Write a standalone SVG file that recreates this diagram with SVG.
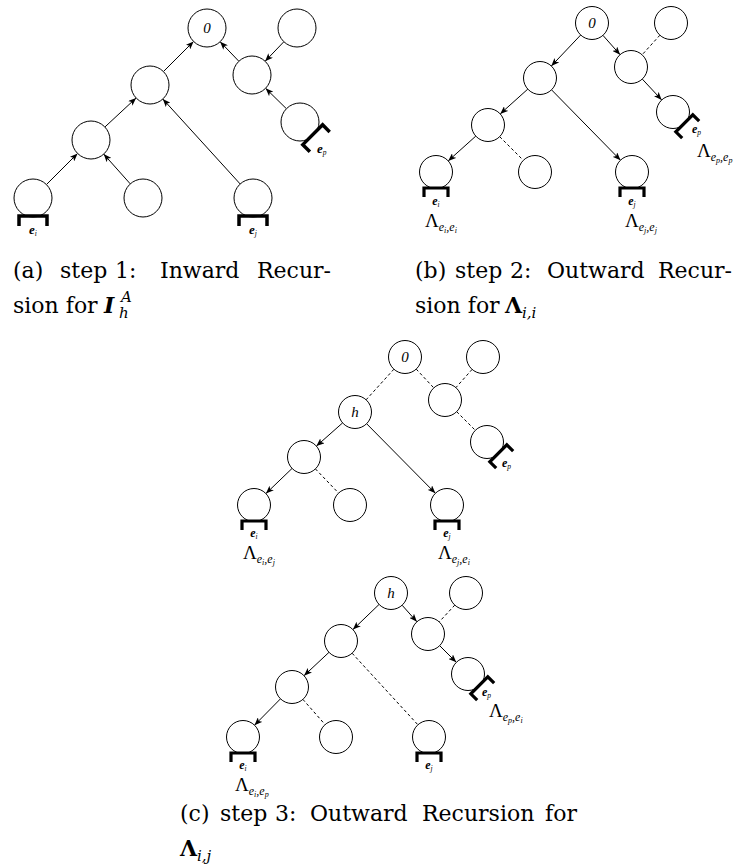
<svg xmlns="http://www.w3.org/2000/svg" width="735" height="866" viewBox="0 0 735 866">
<defs>
<marker id="ah" viewBox="0 0 10 8" refX="10" refY="4" markerWidth="8" markerHeight="6.4" markerUnits="userSpaceOnUse" orient="auto"><path d="M0,0 L10,4 L0,8 L2.5,4 z" fill="#000"/></marker>
<path id="brA" d="M-14,10 V0 H14 V10"/>
<path id="brB" d="M-12,9 V0 H12 V9"/>
</defs>
<style>
.n{fill:#fff;stroke:#000;stroke-width:1}
.e{stroke:#000;stroke-width:1;fill:none}
.a{marker-end:url(#ah)}
.d{stroke-dasharray:3 2.5}
.brA{fill:none;stroke:#000;stroke-width:3.5}
.brB{fill:none;stroke:#000;stroke-width:3.2}
.lab{font-family:"Liberation Serif",serif;font-style:italic;font-size:15px;text-anchor:middle}
.el{font-family:"Liberation Serif",serif;font-style:italic;font-weight:bold;font-size:12px}
.elA{font-family:"Liberation Serif",serif;font-style:italic;font-weight:bold;font-size:13px}
.bs{font-size:7.5px;font-weight:normal}
.lam{font-family:"Liberation Serif",serif;font-size:19px}
.s1{font-size:12px;font-style:italic}
.s2{font-size:8px;font-style:italic}
.cap{font-family:"DejaVu Serif",serif;font-size:22px}
</style>
<rect width="735" height="866" fill="#fff"/>

<g id="connectors">
<!-- panel a -->
<line class="e a" x1="163.4" y1="71.6" x2="193.6" y2="41.4"/>
<line class="e a" x1="238.9" y1="61.3" x2="220.1" y2="41.7"/>
<line class="e a" x1="283.9" y1="41.7" x2="265.1" y2="61.3"/>
<line class="e a" x1="286.4" y1="108.7" x2="265.6" y2="88.3"/>
<line class="e a" x1="104.9" y1="127" x2="136.1" y2="98"/>
<line class="e a" x1="240.2" y1="184" x2="162.8" y2="99"/>
<line class="e a" x1="46.4" y1="184.6" x2="77.6" y2="153.4"/>
<line class="e a" x1="130.3" y1="183.9" x2="103.7" y2="154.1"/>
<!-- panel b -->
<line class="e a" x1="580.7" y1="35" x2="551.3" y2="66"/>
<line class="e a" x1="602.9" y1="35.3" x2="620.1" y2="54.7"/>
<line class="e d" x1="659.9" y1="35.2" x2="642.1" y2="54.8"/>
<line class="e a" x1="642.3" y1="79.1" x2="661.7" y2="99.9"/>
<line class="e a" x1="527.8" y1="89.1" x2="500.2" y2="113.9"/>
<line class="e a" x1="551.5" y1="89.8" x2="620.5" y2="160.2"/>
<line class="e a" x1="475.8" y1="136.1" x2="448.2" y2="160.9"/>
<line class="e d" x1="499.7" y1="136.7" x2="523.3" y2="160.3"/>
<!-- panel c -->
<line class="e d" x1="393.9" y1="369.2" x2="366.1" y2="399.8"/>
<line class="e d" x1="416.2" y1="369.1" x2="433.8" y2="387.9"/>
<line class="e d" x1="472.1" y1="369.4" x2="455.9" y2="387.6"/>
<line class="e d" x1="456.7" y1="411.7" x2="475.3" y2="430.3"/>
<line class="e a" x1="342.6" y1="422.9" x2="316.4" y2="446.1"/>
<line class="e a" x1="366.6" y1="423.7" x2="435.4" y2="493.3"/>
<line class="e a" x1="292.1" y1="468.4" x2="265.9" y2="493.6"/>
<line class="e d" x1="315.4" y1="468.9" x2="338.6" y2="493.1"/>
<!-- panel d -->
<line class="e a" x1="379.1" y1="604.4" x2="352.9" y2="629.6"/>
<line class="e a" x1="402.1" y1="605.2" x2="416.9" y2="621.8"/>
<line class="e d" x1="454.8" y1="605.1" x2="439.2" y2="621.9"/>
<line class="e a" x1="439.7" y1="645.7" x2="456.3" y2="662.3"/>
<line class="e a" x1="329" y1="652.3" x2="304" y2="675.7"/>
<line class="e d" x1="352.1" y1="653.2" x2="417.9" y2="724.8"/>
<line class="e a" x1="280.5" y1="698.8" x2="254.5" y2="725.2"/>
<line class="e d" x1="302.9" y1="699.4" x2="325.1" y2="724.6"/>
</g>

<!-- panel a nodes -->
<g id="a-root"><circle class="n" cx="207" cy="28" r="19"/><text class="lab" x="207" y="33">0</text></g>
<g id="a-tr"><circle class="n" cx="297" cy="28" r="19"/></g>
<g id="a-l2"><circle class="n" cx="150" cy="85" r="19"/></g>
<g id="a-r2"><circle class="n" cx="252" cy="75" r="19"/></g>
<g id="a-ep"><circle class="n" cx="300" cy="122" r="19"/><g transform="translate(300,122) rotate(-45) translate(0,18)"><use href="#brA" class="brA"/></g><text class="elA" x="317" y="153">e<tspan class="bs" dy="2">p</tspan></text></g>
<g id="a-l3"><circle class="n" cx="91" cy="140" r="19"/></g>
<g id="a-ei"><circle class="n" cx="33" cy="198" r="19"/><use href="#brA" class="brA" x="33" y="216"/><text class="elA" x="33" y="234" text-anchor="middle">e<tspan class="bs" dy="2">i</tspan></text></g>
<g id="a-mid"><circle class="n" cx="143" cy="198" r="19"/></g>
<g id="a-ej"><circle class="n" cx="253" cy="198" r="19"/><use href="#brA" class="brA" x="253" y="216"/><text class="elA" x="253" y="234" text-anchor="middle">e<tspan class="bs" dy="2">j</tspan></text></g>

<!-- panel b nodes -->
<g id="b-root"><circle class="n" cx="592" cy="23" r="16.5"/><text class="lab" x="592" y="28" font-size="14">0</text></g>
<g id="b-tr"><circle class="n" cx="671" cy="23" r="16.5"/></g>
<g id="b-l2"><circle class="n" cx="540" cy="78" r="16.5"/></g>
<g id="b-r2"><circle class="n" cx="631" cy="67" r="16.5"/></g>
<g id="b-ep"><circle class="n" cx="673" cy="112" r="16.5"/><g transform="translate(673,112) rotate(-45) translate(0,16)"><use href="#brB" class="brB"/></g><text class="el" x="692" y="133">e<tspan class="bs" dy="2">p</tspan></text>
<text class="lam" x="697" y="157">Λ<tspan class="s1" dy="4">e</tspan><tspan class="s2" dy="2">p</tspan><tspan class="s1" dy="-2">,</tspan><tspan class="s1">e</tspan><tspan class="s2" dy="2">p</tspan></text></g>
<g id="b-l3"><circle class="n" cx="488" cy="125" r="16.5"/></g>
<g id="b-ei"><circle class="n" cx="436" cy="172" r="16.5"/><use href="#brB" class="brB" x="436" y="188"/><text class="el" x="436" y="205" text-anchor="middle">e<tspan class="bs" dy="2">i</tspan></text>
<text class="lam" x="425" y="227">Λ<tspan class="s1" dy="4">e</tspan><tspan class="s2" dy="2">i</tspan><tspan class="s1" dy="-2">,</tspan><tspan class="s1">e</tspan><tspan class="s2" dy="2">i</tspan></text></g>
<g id="b-mid"><circle class="n" cx="535" cy="172" r="16.5"/></g>
<g id="b-ej"><circle class="n" cx="632" cy="172" r="16.5"/><use href="#brB" class="brB" x="632" y="188"/><text class="el" x="632" y="205" text-anchor="middle">e<tspan class="bs" dy="2">j</tspan></text>
<text class="lam" x="625" y="227">Λ<tspan class="s1" dy="4">e</tspan><tspan class="s2" dy="2">j</tspan><tspan class="s1" dy="-2">,</tspan><tspan class="s1">e</tspan><tspan class="s2" dy="2">j</tspan></text></g>

<!-- panel c nodes -->
<g id="c-root"><circle class="n" cx="405" cy="357" r="16.5"/><text class="lab" x="405" y="362" font-size="14">0</text></g>
<g id="c-tr"><circle class="n" cx="483" cy="357" r="16.5"/></g>
<g id="c-h"><circle class="n" cx="355" cy="412" r="16.5"/><text class="lab" x="355" y="417" font-size="15">h</text></g>
<g id="c-r2"><circle class="n" cx="445" cy="400" r="16.5"/></g>
<g id="c-ep"><circle class="n" cx="487" cy="442" r="16.5"/><g transform="translate(487,442) rotate(-45) translate(0,16)"><use href="#brB" class="brB"/></g><text class="el" x="502" y="467">e<tspan class="bs" dy="2">p</tspan></text></g>
<g id="c-l3"><circle class="n" cx="304" cy="457" r="16.5"/></g>
<g id="c-ei"><circle class="n" cx="254" cy="505" r="16.5"/><use href="#brB" class="brB" x="254" y="521"/><text class="el" x="254" y="537" text-anchor="middle">e<tspan class="bs" dy="2">i</tspan></text>
<text class="lam" x="243" y="559">Λ<tspan class="s1" dy="4">e</tspan><tspan class="s2" dy="2">i</tspan><tspan class="s1" dy="-2">,</tspan><tspan class="s1">e</tspan><tspan class="s2" dy="2">j</tspan></text></g>
<g id="c-mid"><circle class="n" cx="350" cy="505" r="16.5"/></g>
<g id="c-ej"><circle class="n" cx="447" cy="505" r="16.5"/><use href="#brB" class="brB" x="447" y="521"/><text class="el" x="447" y="537" text-anchor="middle">e<tspan class="bs" dy="2">j</tspan></text>
<text class="lam" x="438" y="559">Λ<tspan class="s1" dy="4">e</tspan><tspan class="s2" dy="2">j</tspan><tspan class="s1" dy="-2">,</tspan><tspan class="s1">e</tspan><tspan class="s2" dy="2">i</tspan></text></g>

<!-- panel d nodes -->
<g id="d-h"><circle class="n" cx="391" cy="593" r="16.5"/><text class="lab" x="391" y="598" font-size="15">h</text></g>
<g id="d-tr"><circle class="n" cx="466" cy="593" r="16.5"/></g>
<g id="d-r2"><circle class="n" cx="428" cy="634" r="16.5"/></g>
<g id="d-ep"><circle class="n" cx="468" cy="674" r="16.5"/><g transform="translate(468,674) rotate(-45) translate(0,16)"><use href="#brB" class="brB"/></g><text class="el" x="482" y="696">e<tspan class="bs" dy="2">p</tspan></text>
<text class="lam" x="489" y="717">Λ<tspan class="s1" dy="4">e</tspan><tspan class="s2" dy="2">p</tspan><tspan class="s1" dy="-2">,</tspan><tspan class="s1">e</tspan><tspan class="s2" dy="2">i</tspan></text></g>
<g id="d-l2"><circle class="n" cx="341" cy="641" r="16.5"/></g>
<g id="d-l3"><circle class="n" cx="292" cy="687" r="16.5"/></g>
<g id="d-ei"><circle class="n" cx="243" cy="737" r="16.5"/><use href="#brB" class="brB" x="243" y="753"/><text class="el" x="243" y="769" text-anchor="middle">e<tspan class="bs" dy="2">i</tspan></text>
<text class="lam" x="235" y="791">Λ<tspan class="s1" dy="4">e</tspan><tspan class="s2" dy="2">i</tspan><tspan class="s1" dy="-2">,</tspan><tspan class="s1">e</tspan><tspan class="s2" dy="2">p</tspan></text></g>
<g id="d-mid"><circle class="n" cx="336" cy="737" r="16.5"/></g>
<g id="d-ej"><circle class="n" cx="429" cy="737" r="16.5"/><use href="#brB" class="brB" x="429" y="753"/><text class="el" x="429" y="769" text-anchor="middle">e<tspan class="bs" dy="2">j</tspan></text></g>

<!-- captions -->
<g id="cap-a" class="cap">
<text x="13" y="278">(a)</text><text x="60" y="278">step</text><text x="115" y="278">1:</text><text x="160" y="278">Inward</text><text x="257" y="278">Recur-</text>
<text x="13" y="313">sion for</text>
<text x="104" y="313" font-weight="bold" font-style="italic">I</text>
<text x="119" y="318" font-style="italic" font-size="15">h</text>
<text x="121" y="302" font-style="italic" font-size="15">A</text>
</g>
<g id="cap-b" class="cap">
<text x="415" y="278">(b)</text><text x="455" y="278">step</text><text x="510" y="278">2:</text><text x="547" y="278">Outward</text><text x="658" y="278">Recur-</text>
<text x="415" y="313">sion for</text>
<text x="505" y="313" font-weight="bold">Λ</text>
<text x="522" y="318" font-style="italic" font-size="15">i,i</text>
</g>
<g id="cap-c" class="cap">
<text x="180" y="821">(c)</text><text x="220" y="821">step</text><text x="275" y="821">3:</text><text x="310" y="821">Outward</text><text x="422" y="821">Recursion</text><text x="545" y="821">for</text>
<text x="180" y="856" font-weight="bold">Λ</text>
<text x="197" y="861" font-style="italic" font-size="15">i,j</text>
</g>
</svg>
